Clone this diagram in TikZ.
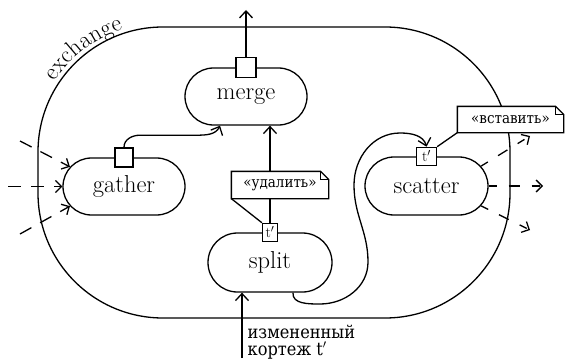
\documentclass[tikz,border=0pt]{standalone}
\usepackage{fontspec}
\newfontfamily\cyrfont{DejaVu Serif Condensed}
\usetikzlibrary{shapes.misc,arrows.meta,decorations.text}

% outline of a note with a folded top-right corner
\newcommand\drawnote[1]{%
  \draw (#1.south west) -- (#1.north west) -- ([xshift=-8pt]#1.north east)
        -- ([yshift=-8pt]#1.north east) -- (#1.south east) -- cycle;
  \draw ([xshift=-8pt]#1.north east) |- ([yshift=-8pt]#1.north east);}

\begin{document}
\begin{tikzpicture}[x=1pt,y=1pt,line width=1.3pt,
  proc/.style={draw, rounded rectangle, minimum width=122pt, minimum height=57pt,
               inner sep=0pt, font=\fontsize{24.5}{26}\selectfont},
  port/.style={draw, fill=white, rectangle, inner sep=0pt, minimum width=#1,
               minimum height=18pt, font=\fontsize{15}{15}\selectfont},
  flow/.style={-{Straight Barb[length=7pt,width=13pt]}},
  dflowin/.style={-{Straight Barb[length=6pt,width=12pt]}, dash pattern=on 13pt off 10pt},
  dflowout/.style={-{Straight Barb[length=6pt,width=12pt]},
                   dash pattern=on 8pt off 12pt on 11pt off 12pt},
  notebox/.style={fill=white, inner sep=0pt, minimum width=#1, minimum height=26pt,
                  font=\cyrfont\fontsize{15}{15}\selectfont},
  caption/.style={anchor=base west, inner sep=0pt, font=\cyrfont\fontsize{18}{18}\selectfont},
]
\useasboundingbox (0,0) rectangle (565,-361);

% the exchange operator boundary
\node[draw, rectangle, rounded corners=125pt, minimum width=472pt,
      minimum height=291pt, inner sep=0pt] (exch) at (274,-172.5) {};
\path[decorate, decoration={text along path, text align=center,
      text={|\fontsize{24}{24}\selectfont|exchange}}]
  (163,-152) ++(155:129) arc[start angle=155, end angle=100, radius=129];

% inner operators
\node[proc] (merge) at (246,-96.5) {merge};
\node[proc] (gather) at (124,-186.5) {gather};
\node[proc, minimum width=123pt, minimum height=58pt] (scatter) at (426.5,-186) {scatter};
\node[proc, minimum width=124pt, minimum height=59pt] (split) at (270,-262.5) {split};

% ports
\node[port=20pt, minimum height=20pt] (mport) at (merge.north) {};
\node[port=18pt, minimum height=19pt] (gport) at (gather.north) {};
\node[port=15pt] (sport) at (split.north) {t$'$};
\node[port=20pt] (scport) at (scatter.north) {t$'$};

% data flow
\coordinate (mout) at (246,-10);
\draw[flow] (mport.north) -- (mout);
\draw[flow] (gport.north) to[out=90,in=180] ++(16,12) -- ++(56,0)
  to[out=0,in=-115] ([xshift=-26pt]merge.south);
\draw[flow] (sport.north) -- (sport.north |- merge.south);
\coordinate (inp) at (242,-358);
\draw[flow] (inp) -- (inp |- split.south);
\draw[flow] ([xshift=23pt]split.south) to[out=-95,in=180] (320,-304)
  to[out=0,in=-90] (368,-262) to[out=90,in=-90] (354,-185)
  to[out=90,in=180] (400,-133) to[out=0,in=105] (scport.north);

% incoming streams
\coordinate (gin1) at (20,-141);
\coordinate (gin2) at (8,-186.5);
\coordinate (gin3) at (20,-234);
\draw[dflowin] (gin1) -- (gather.160);
\draw[dflowin] (gin2) -- (gather.west);
\draw[dflowin] (gin3) -- (gather.200);

% outgoing streams
\coordinate (sout1) at (530,-136);
\coordinate (sout2) at (543,-186);
\coordinate (sout3) at (530,-230);
\draw[dflowout] (scatter.20) -- (sout1);
\draw[dflowout] (scatter.east) -- (sout2);
\draw[dflowout] (scatter.-20) -- (sout3);

% notes
\node[notebox=96pt] (del) at (280,-185) {«удалить»};
\drawnote{del}
\draw (del.south west) -- (sport.north west);
\node[notebox=105pt, minimum height=25pt] (ins) at (510.5,-119.5) {«вставить»};
\drawnote{ins}
\draw (ins.south west) -- (scport.north east);

% input label
\node[caption] (lbl1) at (247,-338) {измененный};
\node[caption] (lbl2) at (247,-355) {кортеж t$'$};
\end{tikzpicture}
\end{document}
